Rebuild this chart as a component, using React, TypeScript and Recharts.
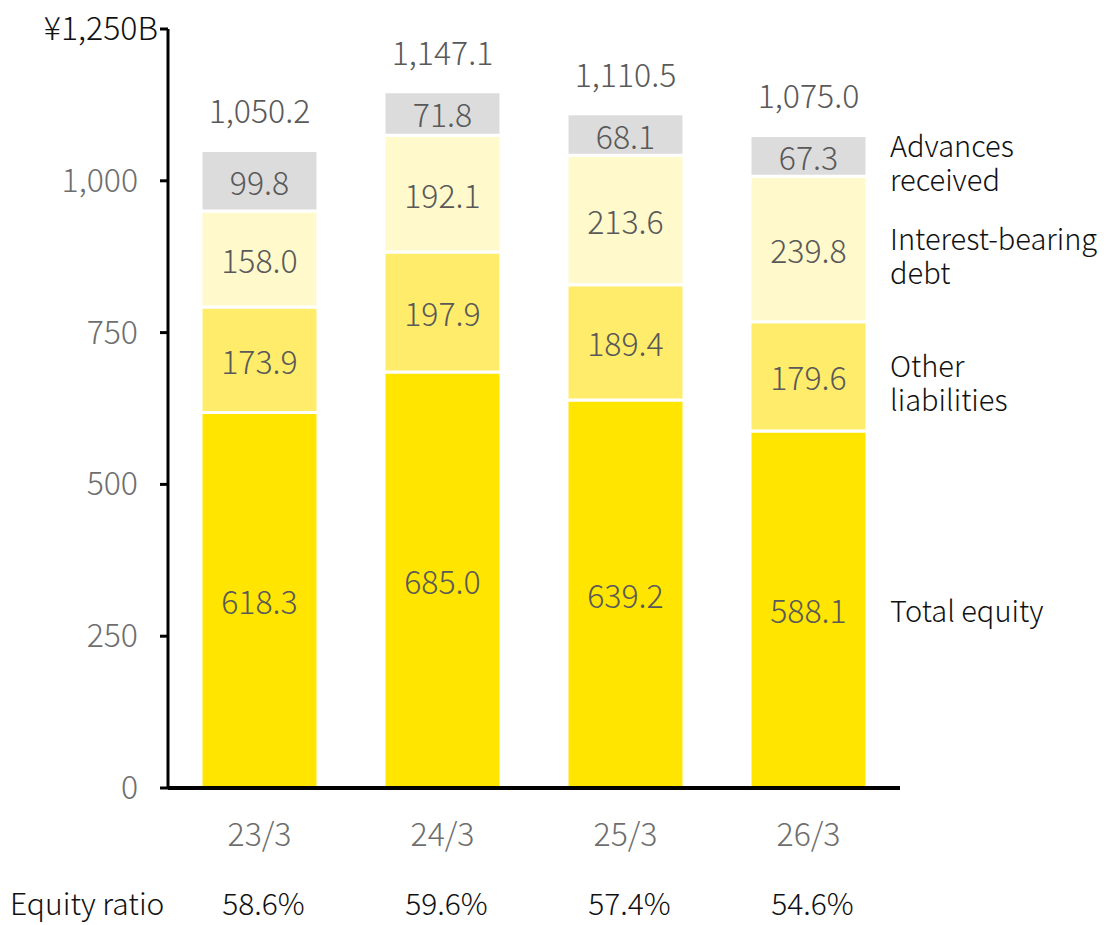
import { BarChart, Bar, XAxis, YAxis, LabelList } from 'recharts';

const categories = ['23/3', '24/3', '25/3', '26/3'];
const totalEquity = [618.3, 685.0, 639.2, 588.1];
const otherLiabilities = [173.9, 197.9, 189.4, 179.6];
const interestBearingDebt = [158.0, 192.1, 213.6, 239.8];
const advancesReceived = [99.8, 71.8, 68.1, 67.3];
const totals = [1050.2, 1147.1, 1110.5, 1075.0];
const equityRatios = ['58.6%', '59.6%', '57.4%', '54.6%'];
const yTicks = [0, 250, 500, 750, 1000, 1250];

const seriesLabels = {
  equity: ['Total equity'],
  other: ['Other', 'liabilities'],
  debt: ['Interest-bearing', 'debt'],
  advances: ['Advances', 'received'],
};

const FONT = '"Noto Sans CJK JP", "Noto Sans", sans-serif';
const last = categories.length - 1;

const data = categories.map((c, i) => ({
  name: c,
  equity: totalEquity[i],
  other: otherLiabilities[i],
  debt: interestBearingDebt[i],
  advances: advancesReceived[i],
  total: totals[i],
  equityName: i === last ? seriesLabels.equity : undefined,
  otherName: i === last ? seriesLabels.other : undefined,
  debtName: i === last ? seriesLabels.debt : undefined,
  advancesName: i === last ? seriesLabels.advances : undefined,
}));

const box = (p: any) => {
  const vb = p.viewBox ?? p;
  return { x: Number(vb.x), y: Number(vb.y), w: Number(vb.width), h: Number(vb.height) };
};

const fmt = (v: number) =>
  v.toLocaleString('en-US', { minimumFractionDigits: 1, maximumFractionDigits: 1 });

const ValueLabel = (p: any) => {
  const { x, y, w, h } = box(p);
  return (
    <text x={x + w / 2} y={y + h / 2} textAnchor="middle" dominantBaseline="central"
      fill="#595959" fontSize={32} fontFamily={FONT} fontWeight={300}>
      {fmt(p.value)}
    </text>
  );
};

const TotalLabel = (p: any) => {
  const { x, y, w } = box(p);
  return (
    <text x={x + w / 2} y={y - 41} textAnchor="middle" dominantBaseline="central"
      fill="#595959" fontSize={32} fontFamily={FONT} fontWeight={300}>
      {fmt(p.value)}
    </text>
  );
};

// two-line names sit a little above the segment middle
const SeriesName = (p: any) => {
  if (!p.value) return null;
  const { x, y, w, h } = box(p);
  const lines: string[] = p.value;
  const cy = y + h / 2;
  const start = lines.length > 1 ? cy - 12 : cy;
  return (
    <g>
      {lines.map((l, i) => (
        <text key={i} x={x + w + 23} y={start + i * 34} dominantBaseline="central"
          fill="#111" fontSize={29} fontFamily={FONT} fontWeight={300}>
          {l}
        </text>
      ))}
    </g>
  );
};

const YTick = (p: any) => {
  const { x, y, payload } = p;
  const top = payload.value === 1250;
  return (
    <text x={top ? x : x - 20} y={y - 3} textAnchor="end" dominantBaseline="central"
      fill={top ? '#111' : '#6e6e6e'} fontSize={32} fontFamily={FONT} fontWeight={300}>
      {top ? '¥1,250B' : payload.value.toLocaleString('en-US')}
    </text>
  );
};

const XTick = (p: any) => {
  const { x, y, payload, index } = p;
  return (
    <g>
      <text x={x} y={y + 36} textAnchor="middle" dominantBaseline="central"
        fill="#6e6e6e" fontSize={32} fontFamily={FONT} fontWeight={300}>
        {payload.value}
      </text>
      <text x={x + 4} y={y + 106} textAnchor="middle" dominantBaseline="central"
        fill="#111" fontSize={30} fontFamily={FONT} fontWeight={300}>
        {equityRatios[index]}
      </text>
      {index === 0 && (
        <text x={10} y={y + 106} dominantBaseline="central"
          fill="#111" fontSize={30} fontFamily={FONT} fontWeight={300}>
          Equity ratio
        </text>
      )}
    </g>
  );
};

export default function App() {
  return (
    <div style={{ position: 'absolute', left: 0, top: 0, background: '#fff' }}>
      <BarChart width={1112} height={925} data={data}
        margin={{ top: 29, right: 212, left: 0, bottom: 0 }} barCategoryGap={33}>
        <YAxis width={168} domain={[0, 1250]} ticks={yTicks} interval={0}
          axisLine={{ stroke: '#000', strokeWidth: 3 }}
          tickLine={{ stroke: '#000', strokeWidth: 3 }} tickSize={8}
          tick={<YTick />} />
        <XAxis dataKey="name" height={137} interval={0}
          axisLine={{ stroke: '#000', strokeWidth: 4 }} tickLine={false}
          tick={<XTick />} />
        <Bar dataKey="equity" stackId="a" fill="#FFE500" stroke="#fff" strokeWidth={3}
          isAnimationActive={false}>
          <LabelList dataKey="equity" content={<ValueLabel />} />
          <LabelList dataKey="equityName" content={<SeriesName />} />
        </Bar>
        <Bar dataKey="other" stackId="a" fill="#FFEC6B" stroke="#fff" strokeWidth={3}
          isAnimationActive={false}>
          <LabelList dataKey="other" content={<ValueLabel />} />
          <LabelList dataKey="otherName" content={<SeriesName />} />
        </Bar>
        <Bar dataKey="debt" stackId="a" fill="#FFF9CC" stroke="#fff" strokeWidth={3}
          isAnimationActive={false}>
          <LabelList dataKey="debt" content={<ValueLabel />} />
          <LabelList dataKey="debtName" content={<SeriesName />} />
        </Bar>
        <Bar dataKey="advances" stackId="a" fill="#DCDCDC" stroke="#fff" strokeWidth={3}
          isAnimationActive={false}>
          <LabelList dataKey="advances" content={<ValueLabel />} />
          <LabelList dataKey="advancesName" content={<SeriesName />} />
          <LabelList dataKey="total" content={<TotalLabel />} />
        </Bar>
      </BarChart>
    </div>
  );
}
